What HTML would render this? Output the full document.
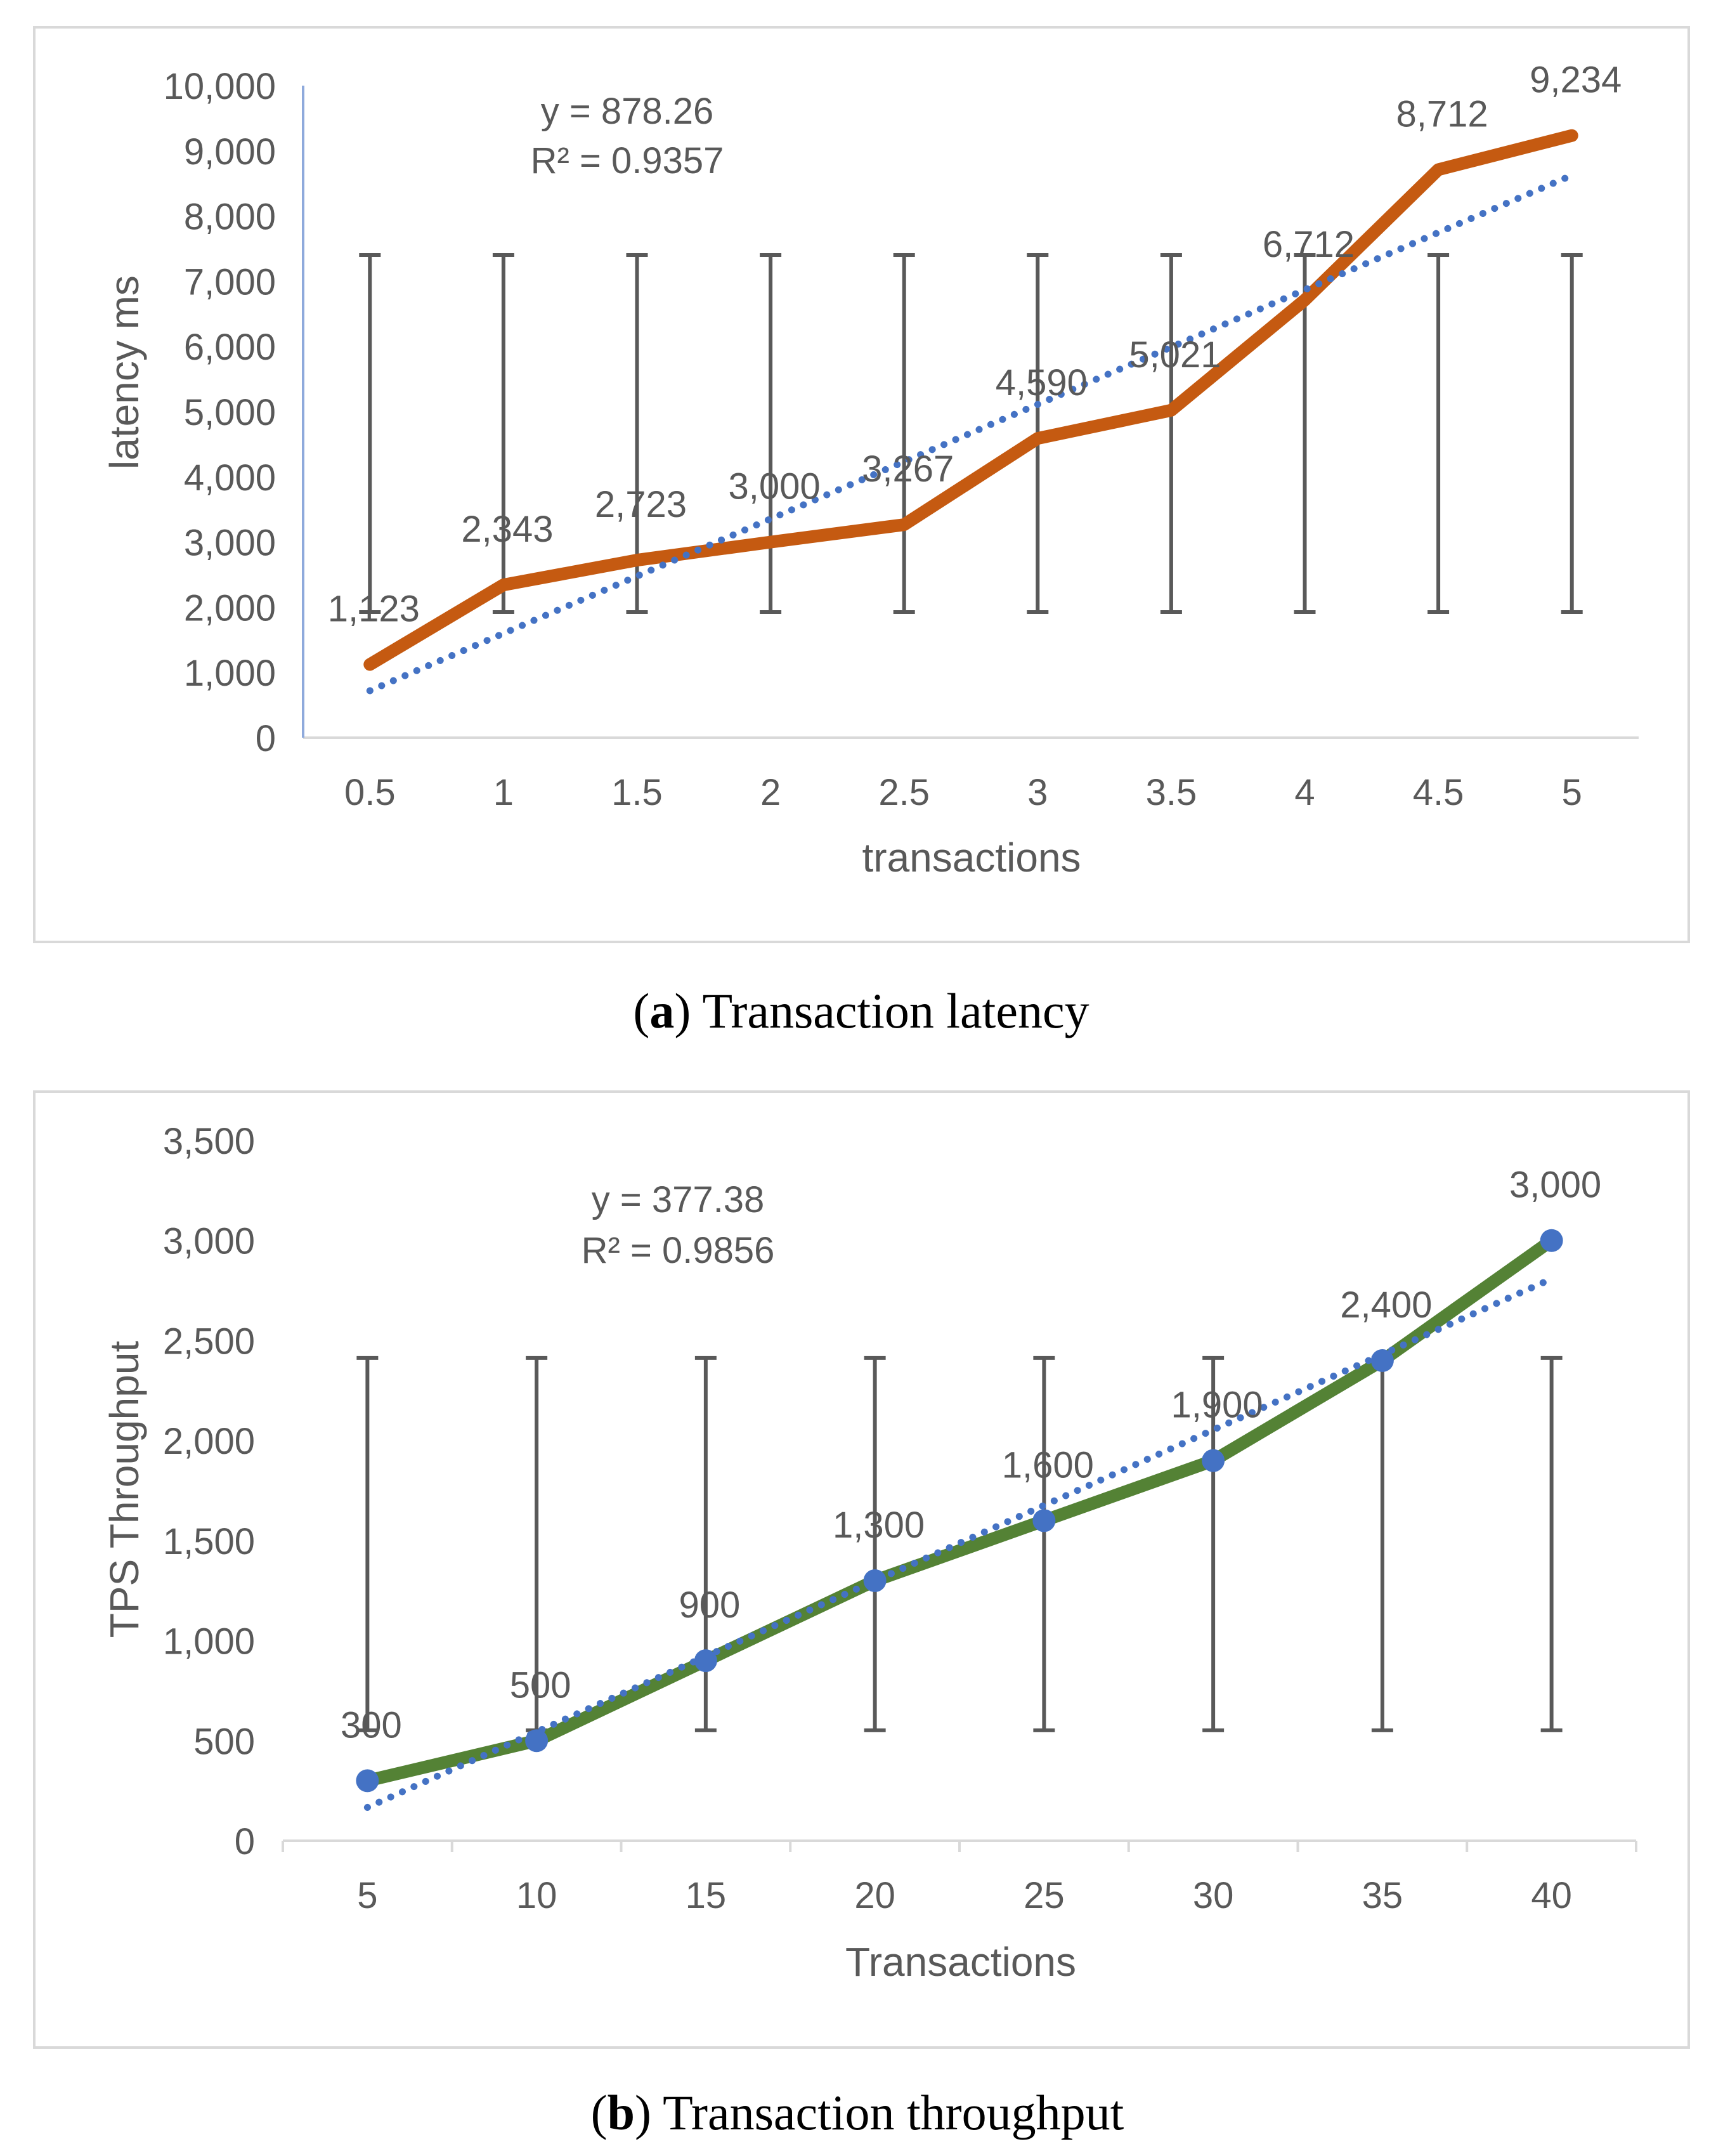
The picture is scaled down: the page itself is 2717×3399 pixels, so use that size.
<!DOCTYPE html>
<html><head><meta charset="utf-8"><style>
html,body{margin:0;padding:0;background:#fff;}
svg{display:block;}
text{font-family:"Liberation Sans",sans-serif;fill:#595959;}
.cap{font-family:"Liberation Serif",serif;fill:#000;}
</style></head><body>
<svg id="svg" width="2717" height="3399" viewBox="0 0 2717 3399" xmlns="http://www.w3.org/2000/svg">
<rect x="54" y="43" width="2609" height="1442" fill="none" stroke="#d9d9d9" stroke-width="4"/>
<rect x="54" y="1721" width="2609" height="1507" fill="none" stroke="#d9d9d9" stroke-width="4"/>
<g id="ca"></g>
<g id="cb"></g>
<text x="989" y="195" font-size="58" text-anchor="middle">y = 878.26</text>
<text x="989" y="273" font-size="58" text-anchor="middle">R² = 0.9357</text>
<text x="1069" y="1911" font-size="58" text-anchor="middle">y = 377.38</text>
<text x="1069" y="1991" font-size="58" text-anchor="middle">R² = 0.9856</text>
<text x="1532" y="1374" font-size="64" text-anchor="middle">transactions</text>
<text x="1515" y="3115" font-size="64" text-anchor="middle">Transactions</text>
<text transform="translate(218,587) rotate(-90)" font-size="64" text-anchor="middle">latency ms</text>
<text transform="translate(218,2348) rotate(-90)" font-size="64" text-anchor="middle">TPS Throughput</text>
<text class="cap" x="1358" y="1620" font-size="78" text-anchor="middle">(<tspan font-weight="bold">a</tspan>) Transaction latency</text>
<text class="cap" x="1352" y="3357" font-size="78" text-anchor="middle">(<tspan font-weight="bold">b</tspan>) Transaction throughput</text>
</svg>
<script>
const latCats = ["0.5","1","1.5","2","2.5","3","3.5","4","4.5","5"];
const latVals = [1123,2343,2723,3000,3267,4590,5021,6712,8712,9234];
const latTicks = [0,1000,2000,3000,4000,5000,6000,7000,8000,9000,10000];
const latErrLow = [1926,1926,1926,1926,1926,1926,1926,1926,1926,1926];
const latErrHigh = [7403,7403,7403,7403,7403,7403,7403,7403,7403,7403];
const tpsCats = ["5","10","15","20","25","30","35","40"];
const tpsVals = [300,500,900,1300,1600,1900,2400,3000];
const tpsTicks = [0,500,1000,1500,2000,2500,3000,3500];
const tpsErrLow = [552,552,552,552,552,552,552,552];
const tpsErrHigh = [2413,2413,2413,2413,2413,2413,2413,2413];

const NS="http://www.w3.org/2000/svg";
function mk(parent,tag,attrs){const e=document.createElementNS(NS,tag);for(const k in attrs)e.setAttribute(k,attrs[k]);parent.appendChild(e);return e;}
function fmt(v){return v.toLocaleString("en-US");}
function fit(vals){const n=vals.length;let sx=0,sy=0,sxy=0,sxx=0;vals.forEach((v,i)=>{const x=i+1;sx+=x;sy+=v;sxy+=x*v;sxx+=x*x;});const a=(n*sxy-sx*sy)/(n*sxx-sx*sx);return [a,(sy-a*sx)/n];}

function draw(g,o){
  const ys=v=>o.y0-(v-o.ymin)/(o.ymax-o.ymin)*(o.y0-o.y1);
  const n=o.cats.length;const bw=(o.xr-o.xl)/n;
  const xs=i=>o.xl+bw*(i+0.5);
  o.ticks.forEach(t=>{const e=mk(g,"text",{x:o.tickX,y:ys(t)+21,"font-size":58,"text-anchor":"end"});e.textContent=fmt(t);
    
    });
  const ax=mk(g,"line",{x1:o.xl,y1:o.y0,x2:o.xr,y2:o.y0,stroke:"#d9d9d9","stroke-width":4});
  
  
  if(o.yaxis){const ya=mk(g,"line",{x1:o.xl,y1:o.y0,x2:o.xl,y2:o.y1,stroke:"#8faadc","stroke-width":4});
    
    }
  if(o.tickmarks){for(let i=0;i<=n;i++){const tm=mk(g,"line",{x1:o.xl+bw*i,y1:o.y0,x2:o.xl+bw*i,y2:o.y0+18,stroke:"#d9d9d9","stroke-width":4});
    
    }}
  o.cats.forEach((c,i)=>{const e=mk(g,"text",{x:xs(i),y:o.y0+o.catDy,"font-size":58,"text-anchor":"middle"});e.textContent=c;
    
    });
  o.cats.forEach((c,i)=>{const x=xs(i),t=ys(o.hi[i]),b=ys(o.lo[i]);
    const p=mk(g,"path",{d:`M${x},${t}V${b}M${x-17},${t}H${x+17}M${x-17},${b}H${x+17}`,stroke:"#595959","stroke-width":6,fill:"none"});
    
    });
  const pts=o.vals.map((v,i)=>xs(i)+","+ys(v)).join(" ");
  const line=mk(g,"polyline",{points:pts,fill:"none",stroke:o.color,"stroke-width":20,"stroke-linejoin":"round","stroke-linecap":"round"});
  
  
  const [a,b]=fit(o.vals);
  const tr=mk(g,"line",{x1:xs(0),y1:ys(a*1+b),x2:xs(n-1),y2:ys(a*n+b),stroke:"#4472c4","stroke-width":11,"stroke-dasharray":"0.1 20","stroke-linecap":"round"});
  
  
  if(o.markers){o.vals.forEach((v,i)=>{const m=mk(g,"circle",{cx:xs(i),cy:ys(v),r:18,fill:"#4472c4"});
    
    });}
  o.vals.forEach((v,i)=>{const e=mk(g,"text",{x:xs(i)+6,y:ys(v)-68,"font-size":58,"text-anchor":"middle",fill:"#404040"});e.textContent=fmt(v);
    
    });
}
draw(document.getElementById("ca"),{cats:latCats,vals:latVals,ticks:latTicks,lo:latErrLow,hi:latErrHigh,
  ymin:0,ymax:10000,y0:1163,y1:135,xl:478,xr:2584,tickX:435,catDy:106,color:"#c55a11",yaxis:true,tickmarks:false,markers:false});
draw(document.getElementById("cb"),{cats:tpsCats,vals:tpsVals,ticks:tpsTicks,lo:tpsErrLow,hi:tpsErrHigh,
  ymin:0,ymax:3500,y0:2902,y1:1798,xl:446,xr:2580,tickX:402,catDy:106,color:"#548235",yaxis:false,tickmarks:true,markers:true});
</script>
</body></html>
